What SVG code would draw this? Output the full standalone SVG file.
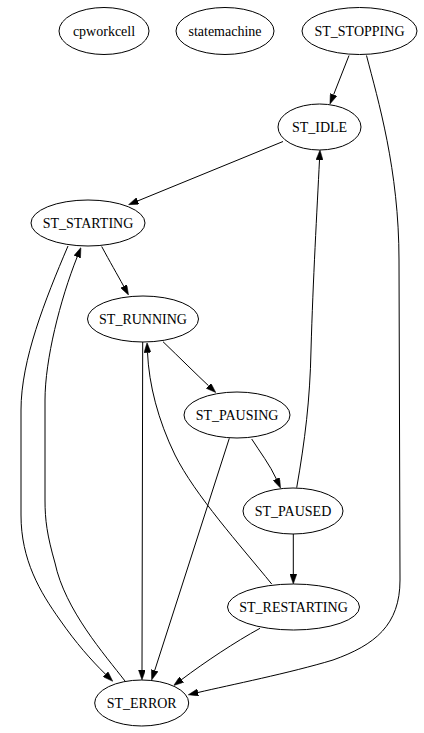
<svg xmlns="http://www.w3.org/2000/svg" width="424" height="733" viewBox="0 0 424 733">
<style>
.n ellipse{fill:none;stroke:#000;stroke-width:1}
.n text{font-family:"Liberation Serif","Times New Roman",serif;font-size:14px;text-anchor:middle;fill:#000}
.e path{fill:none;stroke:#000;stroke-width:1;marker-end:url(#ah)}
</style>
<defs>
<marker id="ah" viewBox="0 0 10 7" refX="0" refY="3.5" markerWidth="10" markerHeight="7" markerUnits="userSpaceOnUse" orient="auto">
<path d="M0,0 L10,3.5 L0,7 z" fill="#000" stroke="#000" stroke-width="0.5"/>
</marker>
</defs>
<rect width="424" height="733" fill="#fff"/>
<g id="edges" class="e">
<path d="M349,55.5 L333.6,94.7"/>
<path d="M366.5,55.5 C378,100 399,170 399,260 L400,580 C400,625 375,645 333,660 C290,673 230,685 198,692.5"/>
<path d="M283,141.5 L137.8,200.9"/>
<path d="M296.7,487.7 C305,440 310,400 311,350 C313,280 317,210 319.5,160"/>
<path d="M101.7,246.5 C110,262 117,274 123.7,286.2"/>
<path d="M68,246 C45,300 21,360 21,410 L21,515 C21,560 40,592 60,620 C76,643 91,660 105.6,674.3"/>
<path d="M125,681 C105,655 65,610 55,563 C47,535 45,520 45,500 L45,400 C45,360 60,300 77.2,256.9"/>
<path d="M163,341.7 C180,358 195,373 208.5,385.7"/>
<path d="M142.7,342 L142,670"/>
<path d="M271.7,584 C240,545 195,495 175,455 C158,420 149,385 147.5,352.6"/>
<path d="M229.3,438.3 L154.7,670.5"/>
<path d="M251.7,439 C260,452 270,465 276.4,479"/>
<path d="M293.3,534 L293.3,574"/>
<path d="M260,628.3 C235,642 205,662 181.7,679.5"/>
</g>
<g id="cpworkcell" class="n"><ellipse cx="104" cy="31" rx="45" ry="23.5"/><text x="104" y="36">cpworkcell</text></g>
<g id="statemachine" class="n"><ellipse cx="225" cy="31" rx="49" ry="23.5"/><text x="225" y="36">statemachine</text></g>
<g id="ST_STOPPING" class="n"><ellipse cx="359.5" cy="31" rx="57.5" ry="23.5"/><text x="359.5" y="36">ST_STOPPING</text></g>
<g id="ST_IDLE" class="n"><ellipse cx="319.5" cy="127" rx="41.5" ry="23"/><text x="319.5" y="132">ST_IDLE</text></g>
<g id="ST_STARTING" class="n"><ellipse cx="88" cy="223" rx="57" ry="23"/><text x="88" y="228">ST_STARTING</text></g>
<g id="ST_RUNNING" class="n"><ellipse cx="143" cy="319" rx="55.5" ry="23"/><text x="143" y="324">ST_RUNNING</text></g>
<g id="ST_PAUSING" class="n"><ellipse cx="237" cy="415" rx="53" ry="23"/><text x="237" y="420">ST_PAUSING</text></g>
<g id="ST_PAUSED" class="n"><ellipse cx="293" cy="511" rx="50" ry="23"/><text x="293" y="516">ST_PAUSED</text></g>
<g id="ST_RESTARTING" class="n"><ellipse cx="293.5" cy="607" rx="66" ry="23"/><text x="293.5" y="612">ST_RESTARTING</text></g>
<g id="ST_ERROR" class="n"><ellipse cx="141.7" cy="703" rx="47" ry="23"/><text x="141.7" y="708">ST_ERROR</text></g>
</svg>
